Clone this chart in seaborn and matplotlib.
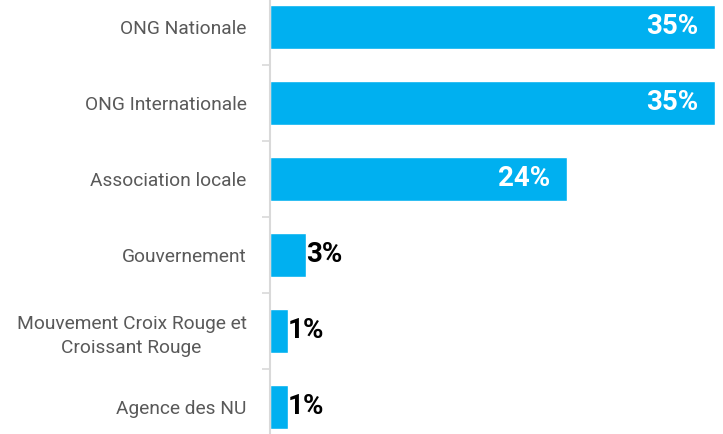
import numpy as np
import pandas as pd
import matplotlib
matplotlib.use("Agg")
import matplotlib.pyplot as plt
import seaborn as sns

categories = [
    "ONG Nationale",
    "ONG Internationale",
    "Association locale",
    "Gouvernement",
    "Mouvement Croix Rouge et\nCroissant Rouge",
    "Agence des NU",
]
values = [35.4, 35.4, 23.6, 2.9, 1.4, 1.4]

df = pd.DataFrame({"cat": categories, "val": values})

sns.set_style("white")
plt.rcParams["font.family"] = ["Roboto", "DejaVu Sans"]

fig = plt.figure(figsize=(7.23, 4.34), dpi=100)
ax = fig.add_axes([270 / 723, 1 - 445 / 434, 453 / 723, 456 / 434])

sns.barplot(data=df, y="cat", x="val", orient="h", color="#00B0F0",
            saturation=1, width=0.58, ax=ax)

ax.set_xlim(0, 36.04)
ax.set_ylim(len(categories) - 0.5, -0.5)
ax.set_xlabel("")
ax.set_ylabel("")
ax.set_xticks([])

for s in ["top", "right", "bottom"]:
    ax.spines[s].set_visible(False)
ax.spines["left"].set_color("#d9d9d9")
ax.spines["left"].set_linewidth(1.5)

ax.tick_params(axis="y", which="major", left=False, pad=13.4, labelsize=13.8,
               labelcolor="#595959")
ax.set_yticks(np.arange(len(categories) + 1) - 0.5, minor=True)
ax.tick_params(axis="y", which="minor", left=True, length=6, width=1.2,
               color="#d9d9d9")
for lab in ax.get_yticklabels():
    lab.set_multialignment("center")
    lab.set_linespacing(1.45)

for i, v in enumerate(values):
    txt = f"{round(v):.0f}%"
    if v > 10:
        ax.annotate(txt, (v, i), xytext=(-12, 0), textcoords="offset points",
                    ha="right", va="center", color="white",
                    fontsize=20, fontweight="bold")
    else:
        ax.annotate(txt, (v, i), xytext=(0, 0), textcoords="offset points",
                    ha="left", va="center", color="black",
                    fontsize=20, fontweight="bold")

fig.savefig("out.png", dpi=100)
